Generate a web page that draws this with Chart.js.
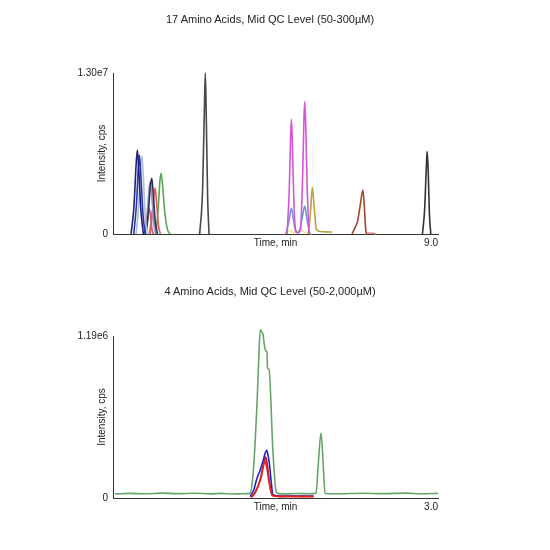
<!DOCTYPE html>
<html>
<head>
<meta charset="utf-8">
<script src="https://cdn.jsdelivr.net/npm/chart.js@4.4.1/dist/chart.umd.min.js"></script>
<style>
  html, body { margin: 0; padding: 0; background: #fff; }
  #page { position: relative; width: 550px; height: 550px; font-family: "Liberation Sans", Arial, sans-serif; }
  .box { position: absolute; left: 0; width: 550px; height: 275px; }
  .title { position: absolute; left: 0; width: 540px; text-align: center; font-size: 11px; line-height: 14px; color: #222; }
</style>
</head>
<body>
<div id="page">
  <div class="box" style="top:0"><canvas id="topChart"></canvas></div>
  <div class="box" style="top:275px"><canvas id="bottomChart"></canvas></div>
  <div class="title" style="top:12px">17 Amino Acids, Mid QC Level (50-300µM)</div>
  <div class="title" style="top:284px">4 Amino Acids, Mid QC Level (50-2,000µM)</div>
</div>
<script>
// ---- top chromatogram: [time (min), intensity (cps)] ----
const trNavyA   = [[0.50,0],[0.58,2.2e6],[0.64,5.6e6],[0.675,6.78e6],[0.71,5.4e6],[0.77,2.0e6],[0.84,0]];
const trNavyB   = [[0.575,0],[0.65,2.4e6],[0.70,5.3e6],[0.73,6.38e6],[0.77,4.8e6],[0.83,1.6e6],[0.89,0]];
const trSteel   = [[0.64,0],[0.71,2.3e6],[0.76,5.2e6],[0.80,6.3e6],[0.84,4.6e6],[0.89,1.5e6],[0.94,0]];
const trDark    = [[0.91,0],[0.98,1.8e6],[1.04,4.0e6],[1.074,4.5e6],[1.11,3.4e6],[1.17,1.0e6],[1.23,0]];
const trLavender= [[0.86,0],[0.94,1.5e6],[1.00,3.7e6],[1.03,4.2e6],[1.07,3.2e6],[1.13,0.9e6],[1.18,0]];
const trRed     = [[1.03,0],[1.09,1.6e6],[1.14,3.3e6],[1.167,3.7e6],[1.20,2.8e6],[1.26,0.7e6],[1.31,0]];
const trSalmon  = [[0.91,0],[0.96,1.1e6],[1.00,2.07e6],[1.04,1.5e6],[1.08,0.4e6],[1.12,0]];
const trCyan    = [[1.00,0],[1.05,0.9e6],[1.09,1.94e6],[1.13,1.3e6],[1.17,0.3e6],[1.21,0]];
const trGreen   = [[1.19,0],[1.25,2.0e6],[1.30,4.3e6],[1.333,4.9e6],[1.37,4.0e6],[1.44,1.6e6],[1.51,0.35e6],[1.58,0]];
const trGrey    = [[2.40,0],[2.48,3.5e6],[2.53,10.0e6],[2.556,13.0e6],[2.58,10.0e6],[2.62,3.0e6],[2.66,0]];
const trMagenta = [[4.82,0],[4.88,3.5e6],[4.92,8.0e6],[4.94,9.26e6],[4.97,7.0e6],[5.01,2.5e6],[5.06,0.3e6],[5.12,0.1e6],
                   [5.19,0.3e6],[5.25,4.5e6],[5.29,9.5e6],[5.31,10.7e6],[5.34,8.5e6],[5.38,3.5e6],[5.43,0]];
const trBlue    = [[4.79,0],[4.87,1.0e6],[4.94,2.07e6],[5.00,1.1e6],[5.06,0.2e6],[5.12,0.1e6],[5.17,0.3e6],
                   [5.24,1.3e6],[5.31,2.26e6],[5.37,1.2e6],[5.45,0]];
const trOlive   = [[5.41,0],[5.47,1.8e6],[5.52,3.77e6],[5.57,2.2e6],[5.63,0.4e6],[5.75,0.2e6],[5.90,0.17e6],[6.07,0.15e6]];
const trYellow  = [[4.72,0],[4.80,0.15e6],[4.90,0.3e6],[5.00,0.12e6],[5.10,0.2e6],[5.20,0.35e6],[5.30,0.15e6],[5.40,0.1e6],[5.50,0]];
const trBrown   = [[6.62,0],[6.70,0.5e6],[6.77,1.0e6],[6.84,2.2e6],[6.92,3.55e6],[6.96,2.2e6],[7.00,0.3e6],[7.03,0]];
const trRose    = [[7.00,0],[7.10,0.08e6],[7.20,0.06e6],[7.28,0]];
const trBlack   = [[8.57,0],[8.63,2.0e6],[8.68,5.6e6],[8.70,6.65e6],[8.73,5.0e6],[8.76,1.8e6],[8.80,0]];

const topTraces = [trNavyA, trNavyB, trSteel, trDark, trLavender, trRed, trSalmon, trCyan, trGreen,
                   trGrey, trMagenta, trBlue, trOlive, trYellow, trBrown, trRose, trBlack];
const topColors = ['#1c237e', '#2a36a8', '#aebfd6', '#2e2f5c', '#9b94c8', '#e4574e', '#c96060', '#3cc6d6', '#5aa55a',
                   '#484848', '#d655d6', '#6a98d0', '#b5a63a', '#ece58f', '#a2472d', '#d88888', '#333333'];
const topXTicks = [9.0];
const topYTicks = [0, 1.30e7];

// ---- bottom chromatogram ----
const btGreen = [[0.02,0.030e6],[0.15,0.034e6],[0.30,0.031e6],[0.45,0.036e6],[0.60,0.032e6],[0.75,0.035e6],[0.90,0.030e6],
                 [1.00,0.034e6],[1.10,0.029e6],[1.20,0.031e6],[1.265,0.034e6],[1.29,0.15e6],[1.31,0.38e6],[1.33,0.70e6],
                 [1.345,1.016e6],[1.36,1.236e6],[1.372,1.22e6],[1.385,1.20e6],[1.397,1.126e6],[1.41,1.08e6],[1.422,1.07e6],
                 [1.426,0.955e6],[1.44,0.945e6],[1.477,0.33e6],[1.508,0.04e6],[1.53,0.032e6],[1.60,0.030e6],[1.70,0.033e6],
                 [1.80,0.031e6],[1.874,0.034e6],[1.895,0.25e6],[1.92,0.477e6],[1.94,0.25e6],[1.957,0.033e6],[2.10,0.031e6],
                 [2.30,0.035e6],[2.50,0.032e6],[2.70,0.036e6],[2.85,0.031e6],[3.00,0.034e6]];
const btBlue = [[1.265,0.01e6],[1.30,0.06e6],[1.325,0.134e6],[1.36,0.21e6],[1.388,0.28e6],[1.405,0.33e6],[1.419,0.35e6],
                [1.432,0.31e6],[1.443,0.257e6],[1.46,0.12e6],[1.477,0.025e6],[1.55,0.015e6],[1.70,0.014e6],[1.85,0.015e6]];
const btRed = [[1.27,0.005e6],[1.31,0.04e6],[1.34,0.09e6],[1.37,0.16e6],[1.39,0.24e6],[1.403,0.27e6],[1.42,0.22e6],
               [1.44,0.12e6],[1.46,0.04e6],[1.48,0.015e6],[1.60,0.012e6],[1.75,0.010e6],[1.85,0.012e6]];
const btCrimson = [[1.28,0.005e6],[1.32,0.05e6],[1.36,0.14e6],[1.39,0.25e6],[1.41,0.30e6],[1.425,0.24e6],[1.445,0.11e6],
                   [1.47,0.02e6],[1.55,0.010e6],[1.70,0.012e6],[1.85,0.010e6]];

const bottomTraces = [btRed, btCrimson, btBlue, btGreen];
const bottomColors = ['#e52222', '#b3123a', '#1f22c8', '#64a668'];
const bottomXTicks = [3.0];
const bottomYTicks = [0, 1.19e6];

Chart.defaults.font.family = '"Liberation Sans", Arial, sans-serif';
Chart.defaults.font.size = 10;
Chart.defaults.color = '#222';

// area = chart area inside the 550x275 canvas, xTitleY = centre of "Time, min"
function buildChart(id, traces, colors, xTicks, yTicks, area, xTitleY) {
    const H = 275;
    return new Chart(document.getElementById(id), {
        type: 'line',
        data: {
            datasets: traces.map((tr, i) => ({
                data: tr.map(p => ({ x: p[0], y: p[1] })),
                borderColor: colors[i],
                borderWidth: 1.6,
                pointRadius: 0,
                fill: false,
                cubicInterpolationMode: 'monotone',
                clip: false
            }))
        },
        options: {
            responsive: true,
            maintainAspectRatio: false,
            animation: false,
            layout: { padding: { top: area.top, right: 550 - area.right, left: 0, bottom: 0 } },
            plugins: { legend: { display: false }, tooltip: { enabled: false } },
            scales: {
                x: {
                    type: 'linear',
                    min: 0,
                    max: xTicks[xTicks.length - 1],
                    grid: { display: false, drawTicks: false },
                    border: { color: '#333', width: 1 },
                    afterBuildTicks: s => { s.ticks = xTicks.map(v => ({ value: v })); },
                    afterFit: s => { s.height = H - area.bottom; },
                    ticks: { align: 'end', padding: 3, maxRotation: 0, callback: v => v.toFixed(1) },
                    title: { display: true, text: 'Time, min', padding: { top: 0, bottom: H - 6 - xTitleY } }
                },
                y: {
                    min: 0,
                    max: yTicks[yTicks.length - 1],
                    grid: { display: false, drawTicks: false },
                    border: { color: '#333', width: 1 },
                    afterBuildTicks: s => { s.ticks = yTicks.map(v => ({ value: v })); },
                    afterFit: s => { s.width = area.left; },
                    ticks: { padding: 5, callback: v => v === 0 ? '0' : v.toExponential(2).replace('+', '') },
                    title: { display: true, text: 'Intensity, cps', padding: { top: area.left - 11 - 6, bottom: 0 } }
                }
            }
        }
    });
}

buildChart('topChart', topTraces, topColors, topXTicks, topYTicks,
    { left: 113, right: 438, top: 73, bottom: 234 }, 243);
buildChart('bottomChart', bottomTraces, bottomColors, bottomXTicks, bottomYTicks,
    { left: 113, right: 438, top: 61, bottom: 223 }, 232);
</script>
</body>
</html>
